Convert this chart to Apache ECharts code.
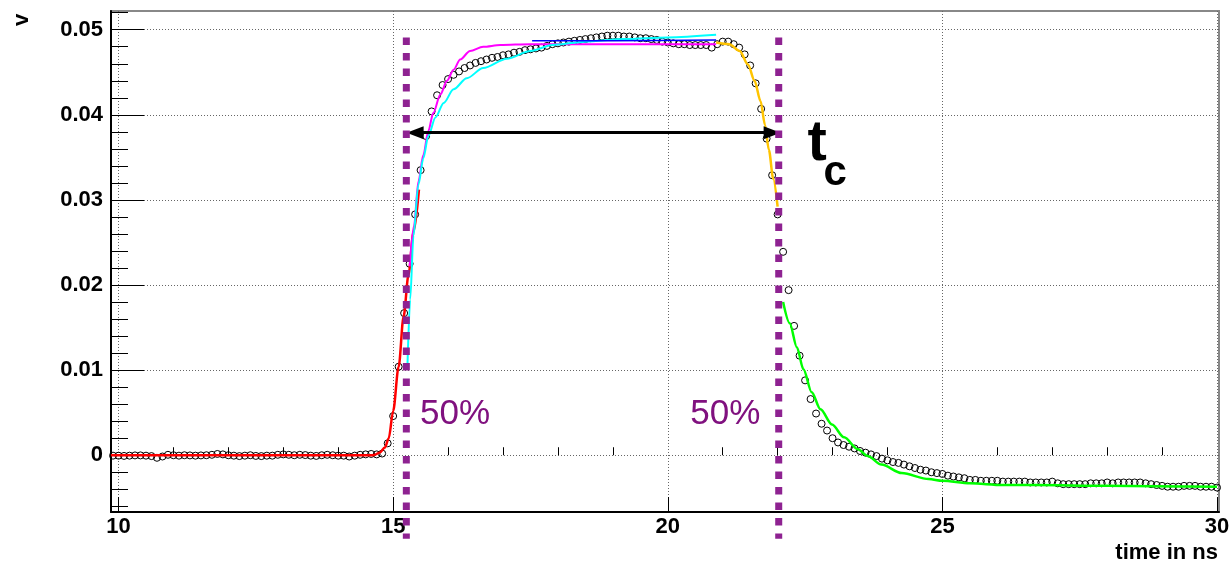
<!DOCTYPE html>
<html>
<head>
<meta charset="utf-8">
<script src="https://cdn.jsdelivr.net/npm/echarts@6/dist/echarts.min.js"></script>
<style>
  html, body { margin: 0; padding: 0; background: #fff; }
  #chart { width: 1231px; height: 563px; }
</style>
</head>
<body>
<div id="chart"></div>
<script>
// waveform samples, one every 0.1 ns starting at 9.9 ns
const tStart = 9.9;
const tStep = 0.1;
const signal = [
  -0.00005,
  -0.00005, -0.00008, -0.00005, -0.00002, -0.00002, -0.00005, -0.0001, -0.0003, -0.00015, 0.00005,
  0, -0.00005, 0, -0.00002, -0.00005, -0.00002, 0, 0.00005, 0.00015, 0.0001,
  0, -0.00005, -0.0001, -0.00005, 0, -0.00008, -0.0001, -0.00005, -0.00005, 0.00005,
  0.0001, 0.00005, 0, 0.00005, 0.00002, -0.00005, -0.00008, 0, 0.00005, 0,
  -0.00005, -0.00005, -0.00015, -0.00005, 0.00005, 0.0001, 0.00015, 0.0001, 0.0002, 0.0014,
  0.0046, 0.0104, 0.0167, 0.0225, 0.0283, 0.0335, 0.0375, 0.0404, 0.0423, 0.0435,
  0.0442, 0.0447, 0.0451, 0.0455, 0.0458, 0.0461, 0.0463, 0.0465, 0.0467, 0.0468,
  0.0470, 0.0471, 0.0473, 0.0474, 0.0476, 0.0477, 0.0478, 0.0479, 0.0481, 0.0483,
  0.0484, 0.0485, 0.0486, 0.0487, 0.0488, 0.0489, 0.0490, 0.0491, 0.0492, 0.0493,
  0.0493, 0.0493, 0.0492, 0.0492, 0.0491, 0.0490, 0.0490, 0.0489, 0.0488, 0.0486,
  0.0485, 0.0484, 0.0483, 0.0483, 0.0482, 0.0482, 0.0482, 0.0482, 0.0479, 0.0483,
  0.0486, 0.0486, 0.0483, 0.0479, 0.0471, 0.0458, 0.0437, 0.0407, 0.0372, 0.0329,
  0.0283, 0.0239, 0.0194, 0.0152, 0.0117, 0.0088, 0.0066, 0.0049, 0.0037, 0.0029,
  0.0020, 0.0015, 0.0012, 0.0010, 0.0008, 0.0005, 0.0003, 0.0001, -0.0001, -0.0004,
  -0.0006, -0.0008, -0.0009, -0.0011, -0.0013, -0.0015, -0.0017, -0.0018, -0.0020, -0.0021,
  -0.0022, -0.0024, -0.0025, -0.0026, -0.0027, -0.0029, -0.0029, -0.0030, -0.0030, -0.0030,
  -0.0030, -0.0031, -0.0031, -0.0031, -0.0031, -0.0031, -0.0032, -0.0032, -0.0032, -0.0032,
  -0.0031, -0.0033, -0.0034, -0.0034, -0.0034, -0.0034, -0.0034, -0.0033, -0.0033, -0.0033,
  -0.0032, -0.0033, -0.0032, -0.0032, -0.0032, -0.0032, -0.0032, -0.0033, -0.0034, -0.0035,
  -0.0036, -0.0037, -0.0037, -0.0037, -0.0036, -0.0036, -0.0036, -0.0037, -0.0037, -0.0037,
  -0.0038
];

// fitted curves, [time, voltage]
const redFit = [[9.86, 0], [11, 0], [12, 0], [13, 0], [14, 0], [14.62, 0], [14.68, 0.0001], [14.75, 0.0003],
  [14.85, 0.0009], [14.92, 0.002], [15.0, 0.0052], [15.1, 0.0104], [15.19, 0.0163], [15.28, 0.0212],
  [15.37, 0.0262], [15.47, 0.0312]];
const magentaFit = [[15.3, 0.0222], [15.38, 0.027], [15.46, 0.0322], [15.55, 0.0353], [15.64, 0.0381],
  [15.73, 0.0402], [15.86, 0.0424], [15.98, 0.044], [16.1, 0.0453], [16.22, 0.0465], [16.4, 0.0475],
  [16.64, 0.048], [16.95, 0.0482], [17.5, 0.0483], [18.5, 0.0483], [19.5, 0.0483], [20.88, 0.0483]];
const cyanFit = [[15.26, 0.0104], [15.31, 0.0183], [15.37, 0.0258], [15.46, 0.0318], [15.55, 0.0349],
  [15.64, 0.0375], [15.77, 0.0397], [15.92, 0.0414], [16.1, 0.043], [16.34, 0.0443], [16.64, 0.0455],
  [17.07, 0.0466], [17.5, 0.0475], [17.9, 0.0482], [18.5, 0.0486], [19.2, 0.0489], [20.0, 0.0491],
  [20.88, 0.0494]];
const blueFit = [[17.53, 0.0487], [19.0, 0.0487], [20.88, 0.0488]];
const orangeFit = [[20.88, 0.0485], [21.12, 0.0483], [21.31, 0.0475], [21.46, 0.0459], [21.58, 0.044],
  [21.69, 0.0416], [21.77, 0.0388], [21.84, 0.0359], [21.92, 0.0325], [22.0, 0.0292]];
const greenFit = [[22.1, 0.018], [22.22, 0.0155], [22.35, 0.0127], [22.47, 0.0101], [22.62, 0.0074],
  [22.78, 0.0054], [22.99, 0.0036], [23.21, 0.0021], [23.46, 0.0007], [23.64, -0.0001], [23.89, -0.0011],
  [24.26, -0.0021], [24.75, -0.0028], [25.0, -0.003], [25.5, -0.0033], [26.1, -0.0035], [26.7, -0.0035],
  [28.0, -0.0036], [30.0, -0.0037]];

// 50% crossing markers and the t_c arrow
const crossTimes = [15.24, 22.02];
const crossSpan = [0.0491, -0.0098];
const arrowLevel = 0.0379;
const arrowEnds = [15.4, 21.9];

// axes
const xMin = 9.863, xMax = 30.036;
const yMin = -0.00667, yMax = 0.0522;
const xTicks = [10, 15, 20, 25, 30];
const xMinorTicks = [11, 12, 13, 14, 16, 17, 18, 19, 21, 22, 23, 24, 26, 27, 28, 29];
const yTicks = [0, 0.01, 0.02, 0.03, 0.04, 0.05];
const yMinorTicks = [-0.006, -0.004, -0.002, 0.002, 0.004, 0.006, 0.008, 0.012, 0.014, 0.016, 0.018,
  0.022, 0.024, 0.026, 0.028, 0.032, 0.034, 0.036, 0.038, 0.042, 0.044, 0.046, 0.048, 0.052];

const FONT = '"Liberation Sans", Arial, Helvetica, sans-serif';
const PURPLE = '#8e2291';

let chart = echarts.init(document.getElementById('chart'), null, { renderer: 'canvas' });

let points = signal.map((v, i) => [+(tStart + i * tStep).toFixed(2), v]);

function fit(name, data, color, width) {
  return {
    name: name,
    type: 'line',
    data: data,
    symbol: 'none',
    smooth: 0.3,
    smoothMonotone: 'x',
    z: 3,
    lineStyle: { color: color, width: width },
    silent: true
  };
}

function crossLine(t) {
  return {
    type: 'line',
    data: [[t, crossSpan[0]], [t, crossSpan[1]]],
    symbol: 'none',
    clip: false,
    z: 5,
    silent: true,
    lineStyle: { color: PURPLE, width: 7, type: [7.5, 8], cap: 'butt' }
  };
}

function note(t, v, text, size, color, bold, align) {
  return {
    value: [t, v],
    label: {
      formatter: text,
      fontSize: size,
      fontWeight: bold ? 'bold' : 'normal',
      color: color,
      opacity: 1,
      textBorderWidth: 0,
      align: align,
      verticalAlign: 'middle'
    }
  };
}

let mainTickLabel = {
  fontFamily: FONT,
  fontWeight: 'bold',
  fontSize: 22,
  color: '#000'
};

let option = {
  animation: false,
  backgroundColor: '#fff',
  grid: {
    left: 111,
    right: 12,
    top: 11,
    bottom: 51,
    show: true,
    borderColor: '#888',
    borderWidth: 2,
    containLabel: false,
    outerBoundsMode: 'none'
  },
  xAxis: [
    {
      type: 'value',
      min: xMin,
      max: xMax,
      splitNumber: 4,
      axisLine: { show: true, onZero: false, lineStyle: { color: '#000', width: 2 } },
      axisTick: { show: true, inside: true, length: 15, customValues: xTicks, lineStyle: { color: '#000', width: 1 } },
      axisLabel: Object.assign({}, mainTickLabel, { customValues: xTicks, margin: 4, formatter: v => String(+v.toFixed(2)) }),
      splitLine: { show: true, lineStyle: { color: '#666', width: 1, type: [1, 2] } }
    },
    {
      type: 'value',
      position: 'bottom',
      min: xMin,
      max: xMax,
      axisLine: { show: false },
      axisTick: { show: true, inside: true, length: 8, customValues: xMinorTicks, lineStyle: { color: '#000', width: 1 } },
      axisLabel: { show: false },
      splitLine: { show: false }
    }
  ],
  yAxis: [
    {
      type: 'value',
      min: yMin,
      max: yMax,
      splitNumber: 6,
      axisLine: { show: true, onZero: false, lineStyle: { color: '#000', width: 2 } },
      axisTick: { show: true, inside: true, length: 33, customValues: yTicks, lineStyle: { color: '#000', width: 1 } },
      axisLabel: Object.assign({}, mainTickLabel, { customValues: yTicks, margin: 8, formatter: v => String(+v.toFixed(3)) }),
      splitLine: { show: true, lineStyle: { color: '#666', width: 1, type: [1, 2] } }
    },
    {
      type: 'value',
      position: 'left',
      min: yMin,
      max: yMax,
      axisLine: { show: false },
      axisTick: { show: true, inside: true, length: 17, customValues: yMinorTicks, lineStyle: { color: '#000', width: 1 } },
      axisLabel: { show: false },
      splitLine: { show: false }
    }
  ],
  graphic: [
    {
      type: 'text',
      x: 22,
      y: 20,
      rotation: Math.PI / 2,
      style: { text: 'v', font: 'bold 22px ' + FONT, fill: '#000', align: 'center', verticalAlign: 'middle' }
    },
    {
      type: 'text',
      x: 1218,
      y: 553,
      style: { text: 'time in ns', font: 'bold 22px ' + FONT, fill: '#000', align: 'right', verticalAlign: 'middle' }
    }
  ],
  series: [
    {
      name: 'data',
      type: 'scatter',
      data: points,
      symbol: 'circle',
      symbolSize: 7,
      z: 2,
      silent: true,
      itemStyle: { color: 'rgba(0,0,0,0)', borderColor: '#000', borderWidth: 1, opacity: 1 }
    },
    fit('rise', redFit, '#ff0000', 2.5),
    fit('rise2', magentaFit, '#ff00ff', 2),
    fit('rise3', cyanFit, '#00ffff', 2),
    fit('top', blueFit, '#0000ff', 1.5),
    fit('fall', orangeFit, '#ffc400', 2.5),
    fit('tail', greenFit, '#00ff00', 2.5),
    crossLine(crossTimes[0]),
    crossLine(crossTimes[1]),
    {
      name: 'tc',
      type: 'line',
      data: [],
      z: 6,
      silent: true,
      markLine: {
        silent: true,
        symbol: ['triangle', 'triangle'],
        symbolSize: [13, 17],
        label: { show: false },
        lineStyle: { color: '#000', width: 3, type: 'solid' },
        emphasis: { disabled: true },
        data: [[{ coord: [arrowEnds[0], arrowLevel] }, { coord: [arrowEnds[1], arrowLevel] }]]
      }
    },
    {
      name: 'notes',
      type: 'scatter',
      symbolSize: 0,
      z: 7,
      silent: true,
      itemStyle: { opacity: 1 },
      label: { show: true, position: [0, 0], fontFamily: FONT },
      data: [
        note(15.49, 0.0048, '50%', 35, '#80117f', false, 'left'),
        note(20.41, 0.0048, '50%', 35, '#80117f', false, 'left'),
        note(22.72, 0.0366, 't', 58, '#000', true, 'center'),
        note(23.05, 0.0331, 'c', 42, '#000', true, 'center')
      ]
    }
  ]
};

chart.setOption(option);
</script>
</body>
</html>
